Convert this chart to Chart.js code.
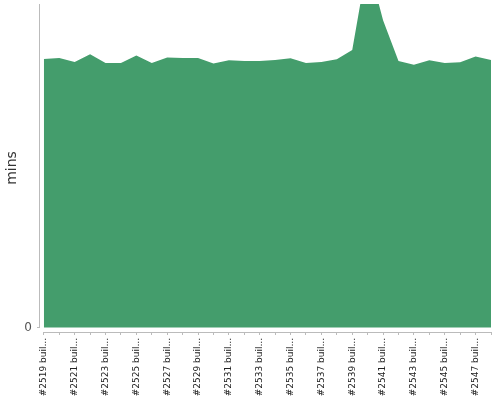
<!DOCTYPE html>
<html lang="en">
<head>
    <meta charset="UTF-8">
    <title>Build duration</title>
    <script src="https://cdn.jsdelivr.net/npm/chart.js"></script>
    <style>
        html, body { margin: 0; padding: 0; background: #fff; }
        #wrap { width: 500px; height: 400px; }
    </style>
</head>
<body>
    <div id="wrap"><canvas id="buildChart"></canvas></div>

    <script>
        // build numbers along the x axis
        const builds = [2519, 2520, 2521, 2522, 2523, 2524, 2525, 2526, 2527, 2528,
                        2529, 2530, 2531, 2532, 2533, 2534, 2535, 2536, 2537, 2538,
                        2539, 2540, 2541, 2542, 2543, 2544, 2545, 2546, 2547, 2548];
        const buildLabels = builds.map(b => '#' + b + ' build');

        // duration (mins)
        const durations = [83.0, 83.3, 82.1, 84.5, 81.8, 81.8, 84.1, 81.8, 83.5, 83.3,
                           83.3, 81.6, 82.6, 82.4, 82.4, 82.7, 83.2, 81.8, 82.1, 82.9,
                           85.8, 113.0, 95.0, 82.4, 81.2, 82.6, 81.8, 82.0, 83.8, 82.7];

        const yTicks = [0];

        const axisColor = '#bbbbbb';
        const labelColor = '#222222';

        function truncate(s) {
            return s.length > 10 ? s.slice(0, 10) + '...' : s;
        }

        // axis lines drawn a few px away from the plot, like the original
        const axisLines = {
            id: 'axisLines',
            afterDraw(chart) {
                const { ctx, chartArea, scales } = chart;
                ctx.save();
                ctx.strokeStyle = axisColor;
                ctx.lineWidth = 1;
                ctx.beginPath();
                ctx.moveTo(chartArea.left - 0.5, chartArea.top);
                ctx.lineTo(chartArea.left - 0.5, Math.round(scales.y.getPixelForValue(0)));
                ctx.moveTo(scales.x.getPixelForValue(0), chartArea.bottom + 0.5);
                ctx.lineTo(scales.x.getPixelForValue(builds.length - 1) + 1, chartArea.bottom + 0.5);
                ctx.stroke();
                ctx.restore();
            }
        };

        new Chart(document.getElementById('buildChart').getContext('2d'), {
            type: 'line',
            data: {
                datasets: [{
                    label: 'mins',
                    data: durations.map((v, i) => ({ x: i, y: v })),
                    fill: 'origin',
                    backgroundColor: '#449d6c',
                    borderWidth: 0,
                    pointRadius: 0,
                    tension: 0
                }]
            },
            options: {
                responsive: true,
                maintainAspectRatio: false,
                animation: false,
                layout: { padding: { top: 4, right: 9, left: 0, bottom: 0 } },
                plugins: {
                    legend: { display: false },
                    tooltip: { enabled: false }
                },
                scales: {
                    x: {
                        type: 'linear',
                        min: -0.25,
                        max: builds.length - 1,
                        afterBuildTicks: s => { s.ticks = builds.map((b, i) => ({ value: i })); },
                        afterFit: s => {
                            s.height = 68;
                            s.paddingLeft = 0;
                            s.paddingRight = 0;
                        },
                        border: { display: false },
                        grid: { drawOnChartArea: false, color: axisColor, tickLength: 3 },
                        ticks: {
                            autoSkip: false,
                            minRotation: 90,
                            maxRotation: 90,
                            padding: 3,
                            color: labelColor,
                            font: { family: 'DejaVu Sans', size: 9 },
                            callback: (v) => (v % 2 === 0 ? truncate(buildLabels[v]) : '')
                        }
                    },
                    y: {
                        min: -1.39,
                        max: 100,
                        afterBuildTicks: s => { s.ticks = yTicks.map(v => ({ value: v })); },
                        afterFit: s => {
                            s.width = 40;
                            s.paddingTop = 0;
                            s.paddingBottom = 0;
                        },
                        border: { display: false },
                        grid: { drawOnChartArea: false, color: axisColor, tickLength: 3 },
                        ticks: {
                            padding: 5,
                            color: '#555555',
                            font: { family: 'DejaVu Sans', size: 12 }
                        },
                        title: {
                            display: true,
                            text: 'mins',
                            color: '#333333',
                            padding: { top: 4, bottom: 0 },
                            font: { family: 'DejaVu Sans', size: 14 }
                        }
                    }
                }
            },
            plugins: [axisLines]
        });
    </script>
</body>
</html>
